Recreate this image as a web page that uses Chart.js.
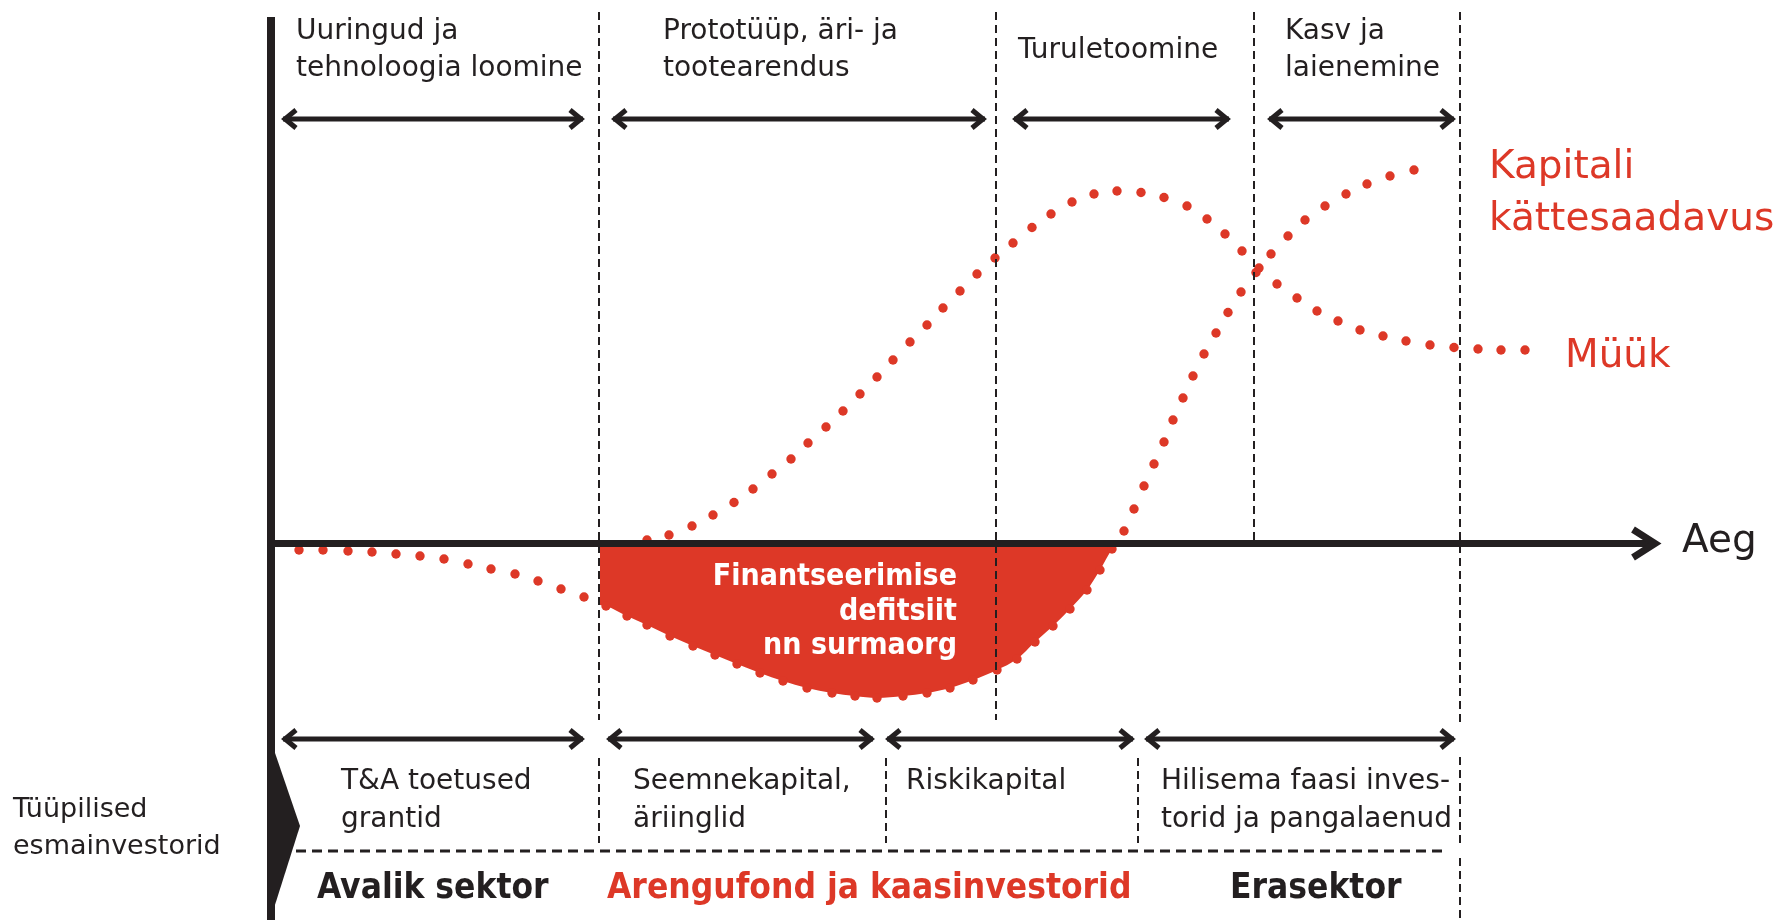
<!DOCTYPE html>
<html lang="et">
<head>
<meta charset="utf-8">
<title>Finantseerimise defitsiit</title>
<script src="https://cdn.jsdelivr.net/npm/chart.js@4.4.1/dist/chart.umd.min.js"></script>
<style>
  html, body { margin: 0; padding: 0; background: #fff; }
  #wrap { width: 1783px; height: 920px; }
</style>
</head>
<body>
<div id="wrap"><canvas id="chart" width="1783" height="920"></canvas></div>
<script>
// time runs 0..140 along the axis, value 0 is the "Aeg" axis
const kapitalX = [2.8, 5.2, 7.7, 10.1, 12.5, 14.9, 17.3, 19.7, 22.0, 24.4, 26.7, 29.0, 31.3,
  33.5, 35.6, 37.6, 39.9, 42.2, 44.4, 46.6, 48.9, 51.2, 53.6, 56.1, 58.4, 60.6, 63.2, 65.6,
  67.9, 70.2, 72.6, 74.6, 76.4, 78.2, 79.9, 81.6, 82.9, 84.1, 85.3, 86.3, 87.3, 88.3, 89.3,
  90.2, 91.2, 92.2, 93.3, 94.5, 95.7, 97.0, 98.5, 100.0, 101.7, 103.4, 105.4, 107.5, 109.6,
  111.9, 114.3];
const kapitalY = [-0.5, -0.5, -0.6, -0.7, -0.9, -1.1, -1.4, -1.9, -2.4, -2.9, -3.6, -4.4, -5.2,
  -6.1, -7.1, -8.0, -9.1, -10.1, -11.0, -11.9, -12.8, -13.6, -14.3, -14.8, -15.1, -15.3, -15.1, -14.8,
  -14.3, -13.5, -12.5, -11.4, -9.7, -8.1, -6.4, -4.5, -2.5, -0.4, 1.4, 3.6, 5.9, 8.1, 10.3,
  12.5, 14.7, 16.9, 19.1, 21.2, 23.25, 25.3, 27.25, 29.1, 30.9, 32.5, 33.9, 35.1, 36.1,
  36.9, 37.5];

const myykX = [37.6, 39.8, 42.1, 44.2, 46.3, 48.2, 50.1, 52.0, 53.7, 55.5, 57.2, 58.9, 60.6,
  62.2, 63.9, 65.6, 67.2, 68.9, 70.6, 72.4, 74.2, 76.1, 78.0, 80.1, 82.3, 84.6, 87.0, 89.3,
  91.6, 93.6, 95.4, 97.1, 98.8, 100.6, 102.6, 104.6, 106.7, 108.9, 111.2, 113.5, 115.9, 118.3,
  120.7, 123.0, 125.4];
const myykY = [0.5, 1.0, 1.9, 3.0, 4.25, 5.6, 7.1, 8.6, 10.2, 11.8, 13.4, 15.1, 16.8,
  18.5, 20.3, 22.0, 23.7, 25.4, 27.1, 28.7, 30.2, 31.75, 33.1, 34.3, 35.1, 35.4, 35.25, 34.75,
  33.9, 32.6, 31.1, 29.4, 27.7, 26.1, 24.7, 23.4, 22.4, 21.5, 20.9, 20.4, 20.0, 19.75,
  19.6, 19.5, 19.5];

// deficit area: from the start of prototyping until capital line crosses zero
const defitsiitStart = { x: 32.9, y: -6.0 };
const defitsiitEnd = { x: 84.4, y: 0 };

// phases on top, investor groups below
const phaseEdges = [0, 32.8, 72.5, 98.3, 118.9];
const phaseLabels = [['Uuringud ja', 'tehnoloogia loomine'], ['Prototüüp, äri- ja', 'tootearendus'],
  ['Turuletoomine'], ['Kasv ja', 'laienemine']];
const investorEdges = [0, 32.8, 61.5, 86.7, 118.9];
const investorLabels = [['T&A toetused', 'grantid'], ['Seemnekapital,', 'äriinglid'],
  ['Riskikapital'], ['Hilisema faasi inves-', 'torid ja pangalaenud']];
const sectorLabels = ['Avalik sektor', 'Arengufond ja kaasinvestorid', 'Erasektor'];

const RED = '#dd3827';
const INK = '#231f20';
const SANS = '"DejaVu Sans", sans-serif';
const COND = '"DejaVu Sans Condensed", "DejaVu Sans", sans-serif';

const pts = (xs, ys) => xs.map((x, i) => ({ x: x, y: ys[i] }));
const kapital = pts(kapitalX, kapitalY);
const myyk = pts(myykX, myykY);
const defitsiit = [defitsiitStart]
  .concat(kapital.filter(p => p.x > defitsiitStart.x && p.x < defitsiitEnd.x))
  .concat([defitsiitEnd]);

function chevron(ctx, x, y, dir, d, h) {
  ctx.beginPath();
  ctx.moveTo(x - dir * d, y - h);
  ctx.lineTo(x, y);
  ctx.lineTo(x - dir * d, y + h);
  ctx.stroke();
}

function span(ctx, x1, x2, y) {
  ctx.save();
  ctx.strokeStyle = INK;
  ctx.lineWidth = 5;
  ctx.lineJoin = 'miter';
  ctx.setLineDash([]);
  ctx.beginPath();
  ctx.moveTo(x1 + 2, y);
  ctx.lineTo(x2 - 2, y);
  ctx.stroke();
  chevron(ctx, x1 + 4, y, -1, 11, 9);
  chevron(ctx, x2 - 4, y, 1, 11, 9);
  ctx.restore();
}

function lines(ctx, arr, x, y, lh) {
  arr.forEach((t, i) => ctx.fillText(t, x, y + i * lh));
}

const diagram = {
  id: 'diagram',
  afterDatasetsDraw(chart) {
    const ctx = chart.ctx;
    const xs = chart.scales.x, ys = chart.scales.y;
    const X = v => xs.getPixelForValue(v);
    const y0 = ys.getPixelForValue(0);

    ctx.save();
    // dashed phase borders
    ctx.strokeStyle = INK;
    ctx.lineWidth = 2;
    ctx.setLineDash([8, 5]);
    const segs = [
      [phaseEdges[1], 12, 720], [phaseEdges[2], 12, 720], [phaseEdges[3], 12, y0],
      [phaseEdges[4], 12, 722], [phaseEdges[4], 757, 845], [phaseEdges[4], 858, 920],
      [investorEdges[1], 758, 843], [investorEdges[2], 758, 843], [investorEdges[3], 758, 843]
    ];
    segs.forEach(s => {
      const x = Math.round(X(s[0]));
      ctx.beginPath();
      ctx.moveTo(x, s[1]);
      ctx.lineTo(x, s[2]);
      ctx.stroke();
    });
    ctx.lineWidth = 3;
    ctx.setLineDash([10, 6]);
    ctx.beginPath();
    ctx.moveTo(296, 851);
    ctx.lineTo(1445, 851);
    ctx.stroke();
    ctx.setLineDash([]);

    // span arrows
    const topSpans = [[1.0, 31.4], [34.0, 71.6], [74.1, 96.0], [99.6, 118.5]];
    topSpans.forEach(s => span(ctx, X(s[0]), X(s[1]), 119));
    const lowSpans = [[1.0, 31.4], [33.5, 60.4], [61.4, 86.4], [87.3, 118.5]];
    lowSpans.forEach(s => span(ctx, X(s[0]), X(s[1]), 739));

    // main time axis
    ctx.strokeStyle = INK;
    ctx.lineWidth = 7;
    ctx.beginPath();
    ctx.moveTo(X(0), y0 - 1.5);
    ctx.lineTo(1656, y0 - 1.5);
    ctx.stroke();
    ctx.lineJoin = 'miter';
    chevron(ctx, 1655, y0 - 1.5, 1, 22, 14);

    // vertical axis with pointer
    ctx.fillStyle = INK;
    ctx.fillRect(X(0) - 4, 17, 8, 903);
    ctx.beginPath();
    ctx.moveTo(X(0) + 3, 750);
    ctx.lineTo(X(0) + 29, 826);
    ctx.lineTo(X(0) + 3, 908);
    ctx.closePath();
    ctx.fill();

    // texts
    ctx.textBaseline = 'alphabetic';
    ctx.textAlign = 'left';
    ctx.fillStyle = INK;
    ctx.font = '28px ' + SANS;
    const topX = [2.5, 39.2, 74.7, 101.4];
    phaseLabels.forEach((l, i) => {
      lines(ctx, l, X(topX[i]), l.length === 1 ? 58 : 38.5, 37.5);
    });
    const lowX = [7.0, 36.2, 63.5, 89.0];
    investorLabels.forEach((l, i) => lines(ctx, l, X(lowX[i]), 789, 38));
    ctx.font = '27px ' + SANS;
    lines(ctx, ['Tüüpilised', 'esmainvestorid'], 13, 817, 37);

    ctx.font = 'bold 35px ' + COND;
    const secX = [4.6, 33.6, 95.9];
    sectorLabels.forEach((t, i) => {
      ctx.fillStyle = i === 1 ? RED : INK;
      ctx.fillText(t, X(secX[i]), 898);
    });

    ctx.font = '39px ' + SANS;
    ctx.fillStyle = RED;
    lines(ctx, ['Kapitali', 'kättesaadavus'], 1489, 178, 52);
    ctx.fillText('Müük', 1565, 367);
    ctx.fillStyle = INK;
    ctx.fillText('Aeg', 1682, 552);

    ctx.fillStyle = '#fff';
    ctx.font = 'bold 30px ' + COND;
    ctx.textAlign = 'right';
    lines(ctx, ['Finantseerimise', 'defitsiit', 'nn surmaorg'], 957, 585, 34.5);
    ctx.restore();
  }
};

new Chart(document.getElementById('chart').getContext('2d'), {
  type: 'scatter',
  data: {
    datasets: [
      {
        label: 'Kapitali kättesaadavus',
        data: kapital,
        showLine: false,
        pointRadius: 4.7,
        pointHoverRadius: 4.7,
        pointBorderWidth: 0,
        pointBackgroundColor: RED,
        order: 0
      },
      {
        label: 'Müük',
        data: myyk,
        showLine: false,
        pointRadius: 4.7,
        pointHoverRadius: 4.7,
        pointBorderWidth: 0,
        pointBackgroundColor: RED,
        order: 1
      },
      {
        type: 'line',
        label: 'Finantseerimise defitsiit',
        data: defitsiit,
        borderWidth: 0,
        pointRadius: 0,
        cubicInterpolationMode: 'monotone',
        fill: 'origin',
        backgroundColor: RED,
        order: 2
      }
    ]
  },
  options: {
    responsive: false,
    animation: false,
    devicePixelRatio: 1,
    events: [],
    layout: { padding: { left: 271, right: 112, top: 5, bottom: 5 } },
    scales: {
      x: { type: 'linear', min: 0, max: 140, display: false },
      y: { type: 'linear', min: -37, max: 54, display: false }
    },
    plugins: {
      legend: { display: false },
      tooltip: { enabled: false }
    }
  },
  plugins: [diagram]
});
</script>
</body>
</html>
